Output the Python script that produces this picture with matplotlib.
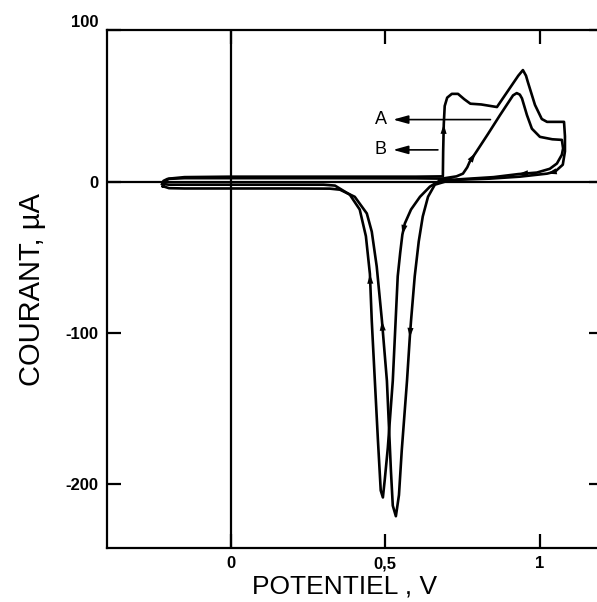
import matplotlib
matplotlib.use('Agg')
import matplotlib.pyplot as plt
import numpy as np

plt.rcParams['font.family'] = ['Liberation Sans', 'DejaVu Sans']

# cycle A : potential (V) / current (uA), in sweep order
A_potential = [-0.220, -0.215, -0.200, -0.150, 0.000, 0.300, 0.600, 0.686,
               0.687, 0.689, 0.692, 0.700, 0.715, 0.735, 0.755, 0.775,
               0.810, 0.840, 0.861, 0.900, 0.930, 0.945, 0.955, 0.961,
               0.984, 1.006, 1.023, 1.078, 1.081, 1.081, 1.074, 1.049,
               1.023, 0.935, 0.838, 0.740, 0.693, 0.660, 0.638, 0.621,
               0.608, 0.595, 0.583, 0.579, 0.570, 0.553, 0.544, 0.534,
               0.524, 0.518, 0.505, 0.489, 0.472, 0.456, 0.440, 0.401,
               0.353, 0.320, 0.200, 0.000, -0.150, -0.200, -0.220]
A_current = [-3.0, 0.0, 2.0, 3.0, 3.3, 3.3, 3.3, 3.5,
             20.0, 38.0, 50.0, 55.5, 58.0, 58.0, 54.5, 51.5,
             51.0, 50.0, 49.3, 61.0, 70.0, 73.7, 70.0, 65.8,
             50.7, 41.4, 39.5, 39.5, 30.0, 20.0, 11.2, 6.6,
             5.3, 3.3, 2.0, 1.3, 0.0, -2.0, -10.0, -23.0,
             -39.5, -62.5, -92.0, -103.0, -131.6, -177.6, -207.0, -221.0,
             -214.0, -191.0, -131.6, -92.0, -56.0, -33.0, -21.0, -10.0,
             -5.3, -4.6, -4.5, -4.5, -4.5, -4.3, -3.0]
A_arrows = [9, 32, 43, 51]

# cycle B
B_potential = [-0.222, -0.218, -0.205, -0.150, 0.000, 0.300, 0.600, 0.683,
               0.730, 0.751, 0.765, 0.773, 0.792, 0.832, 0.871, 0.913,
               0.925, 0.935, 0.942, 0.958, 0.974, 1.000, 1.040, 1.071,
               1.075, 1.071, 1.055, 1.032, 0.990, 0.930, 0.850, 0.773,
               0.676, 0.644, 0.612, 0.583, 0.563, 0.555, 0.548, 0.540,
               0.524, 0.508, 0.498, 0.492, 0.485, 0.476, 0.466, 0.456,
               0.450, 0.437, 0.417, 0.385, 0.337, 0.300, 0.000, -0.150,
               -0.200, -0.222]
B_current = [-1.5, 0.5, 1.8, 2.3, 2.3, 2.3, 2.2, 2.0,
             3.5, 5.3, 9.5, 13.2, 19.0, 31.5, 44.0, 57.0,
             58.5, 57.5, 55.0, 44.0, 35.0, 29.6, 28.0, 27.6,
             22.0, 17.8, 12.0, 8.5, 6.0, 5.0, 3.0, 2.0,
             0.7, -3.3, -10.0, -18.4, -27.6, -35.0, -47.0, -62.5,
             -131.6, -175.7, -197.0, -208.6, -204.0, -171.0, -131.6, -92.0,
             -61.0, -36.0, -18.4, -8.6, -2.6, -2.0, -2.0, -2.0,
             -2.0, -1.5]
B_arrows = [12, 29, 37, 48]

x_ticks = [0, 0.5, 1]
x_ticklabels = ['0', '0,5', '1']
y_ticks = [100, 0, -100, -200]
y_ticklabels = ['100', '0', '-100', '-200']

fig = plt.figure(figsize=(5.97, 6.02), dpi=100)
ax = fig.add_axes([0.179, 0.0897, 0.831, 0.860])

for V, I, arr in [(A_potential, A_current, A_arrows),
                  (B_potential, B_current, B_arrows)]:
    ax.plot(V, I, color='black', lw=1.9, solid_joinstyle='round')
    for i in arr:
        ax.annotate('', xy=(V[i], I[i]), xytext=(V[i - 1], I[i - 1]),
                    arrowprops=dict(arrowstyle='-|>,head_length=0.7,head_width=0.22',
                                    mutation_scale=10, lw=0, color='black',
                                    shrinkA=0, shrinkB=0))

ax.axhline(0, color='black', lw=1.6)
ax.axvline(0, color='black', lw=1.6)

# labels A / B with their arrows
ax.annotate('', xy=(0.525, 41), xytext=(0.84, 41),
            arrowprops=dict(arrowstyle='-|>,head_length=0.9,head_width=0.25',
                            mutation_scale=10, lw=1.2, color='black',
                            shrinkA=0, shrinkB=0))
ax.annotate('', xy=(0.525, 21), xytext=(0.67, 21),
            arrowprops=dict(arrowstyle='-|>,head_length=0.9,head_width=0.25',
                            mutation_scale=10, lw=1.2, color='black',
                            shrinkA=0, shrinkB=0))
ax.text(0.485, 41, 'A', fontsize=13, ha='center', va='center')
ax.text(0.485, 21, 'B', fontsize=13, ha='center', va='center')

ax.set_xlim(-0.401, 1.204)
ax.set_ylim(-242, 100)

ax.set_xticks(x_ticks)
ax.set_xticklabels(x_ticklabels, fontsize=12, fontweight='bold')
ax.set_yticks(y_ticks)
ax.set_yticklabels(y_ticklabels, fontsize=12, fontweight='bold')
ax.get_yticklabels()[0].set_va('bottom')
ax.tick_params(direction='in', length=10, width=1.6, top=True, right=True, pad=6)
for s in ax.spines.values():
    s.set_linewidth(1.6)

ax.set_xlabel('POTENTIEL , V', fontsize=19)
ax.xaxis.set_label_coords(0.48, -0.052)
ax.xaxis.label.set_va('top')
ax.set_ylabel('COURANT, µA', fontsize=21, labelpad=14)

fig.savefig('out.png', dpi=100)
